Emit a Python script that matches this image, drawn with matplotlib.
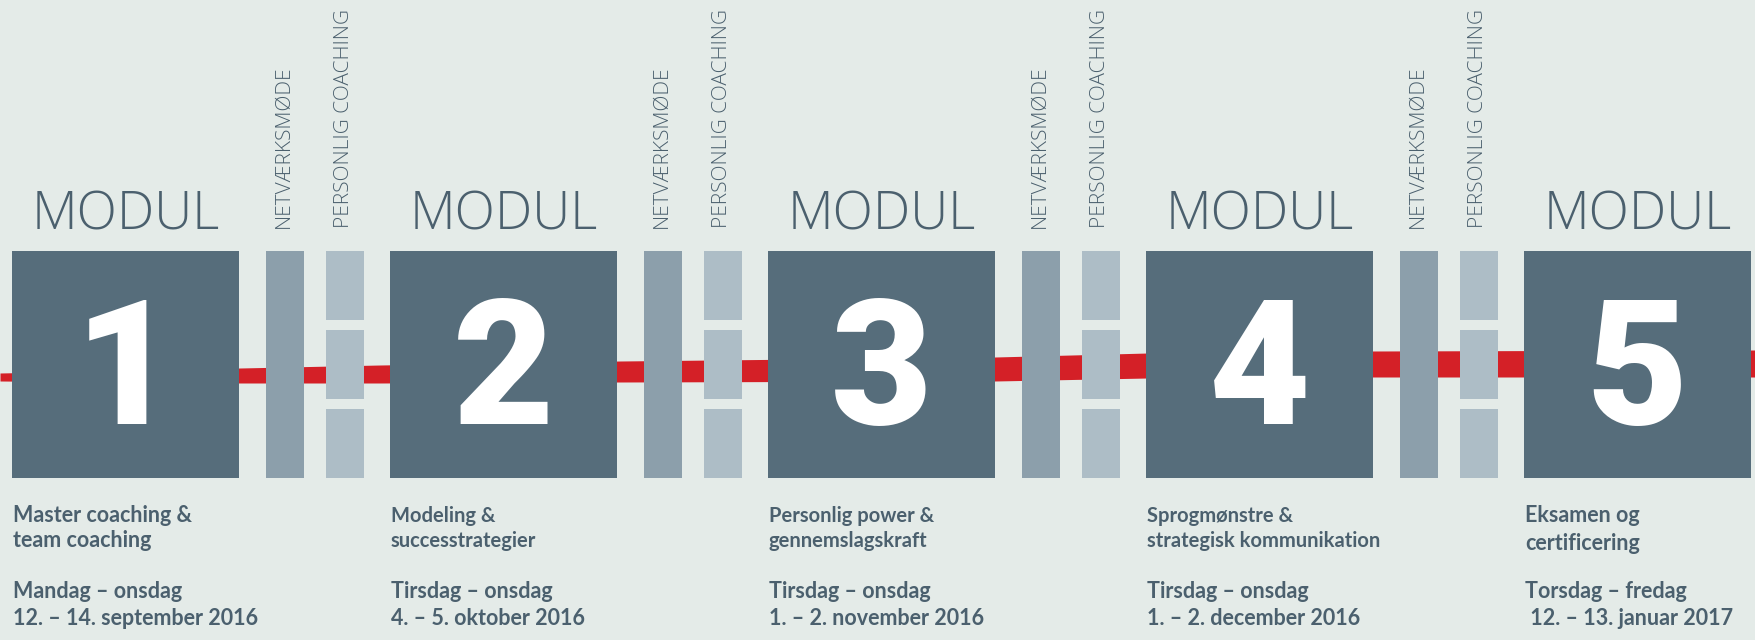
import matplotlib.pyplot as plt
from matplotlib.patches import Rectangle

# --- Data ---
modules = ['1', '2', '3', '4', '5']
titles = [
    ['Master coaching &', 'team coaching'],
    ['Modeling &', 'successtrategier'],
    ['Personlig power &', 'gennemslagskraft'],
    ['Sprogmønstre &', 'strategisk kommunikation'],
    ['Eksamen og', 'certificering'],
]
days = ['Mandag – onsdag', 'Tirsdag – onsdag', 'Tirsdag – onsdag',
        'Tirsdag – onsdag', 'Torsdag – fredag']
dates = ['12. – 14. september 2016', '4. – 5. oktober 2016',
         '1. – 2. november 2016', '1. – 2. december 2016',
         ' 12. – 13. januar 2017']
gap_labels = ['NETVÆRKSMØDE', 'PERSONLIG COACHING']

# red timeline band (x, top edge, bottom edge)
line_x = [0, 240, 380, 620, 995, 1148, 1373, 1756]
line_top = [373, 368, 365, 361, 357, 353, 351, 350]
line_bot = [381, 383, 383, 382, 381, 378, 377, 377]

# --- Colours ---
bg = '#e4ebe8'
box_col = '#566d7b'
net_col = '#8c9fab'
pers_col = '#adbdc6'
red = '#d42027'
txt = '#4b606e'

# --- Layout (pixels) ---
period = 378
box_x0, box_w = 12, 227
box_top, box_bot = 251, 478
net_off, net_w = 254, 38
pers_off, pers_w = 314, 38
seg_h, seg_gap = 69, 10

fig = plt.figure(figsize=(17.56, 6.4), dpi=100)
fig.patch.set_facecolor(bg)
ax = fig.add_axes([0, 0, 1, 1])
ax.set_xlim(0, 1756)
ax.set_ylim(640, 0)
ax.axis('off')
ax.set_facecolor(bg)

# timeline
ax.fill_between(line_x, line_top, line_bot, color=red, lw=0, zorder=1)

for i, num in enumerate(modules):
    x0 = box_x0 + i * period
    ax.add_patch(Rectangle((x0, box_top), box_w, box_bot - box_top,
                           color=box_col, lw=0, zorder=3))
    ax.text(x0 + box_w / 2, 358, num, color='white', fontsize=126,
            family='Roboto', fontweight='black', ha='center',
            va='center_baseline', zorder=4)
    ax.text(x0 + box_w / 2, 229, 'MODUL', color=txt, fontsize=38,
            family='Open Sans', fontweight='light', ha='center', va='baseline')

    # texts below
    tsize = 15.5 if i in (0, 4) else 14.5
    ax.text(x0 + 1, 522, titles[i][0], color=txt, fontsize=tsize,
            family='Lato', fontweight='bold', va='baseline')
    ax.text(x0 + 1, 547 if i != 4 else 550, titles[i][1], color=txt,
            fontsize=tsize, family='Lato', fontweight='bold', va='baseline')
    ax.text(x0 + 1, 598, days[i], color=txt, fontsize=15.5,
            family='Lato', fontweight='bold', va='baseline')
    ax.text(x0 + 1, 625, dates[i], color=txt, fontsize=15.5,
            family='Lato', fontweight='bold', va='baseline')

    if i == len(modules) - 1:
        continue
    # netværksmøde bar
    nx = x0 + net_off
    ax.add_patch(Rectangle((nx, box_top), net_w, box_bot - box_top,
                           color=net_col, lw=0, zorder=3))
    ax.text(nx + net_w / 2 - 1, 228, gap_labels[0], color=txt, fontsize=15,
            family='Open Sans', fontweight='light', rotation=90,
            ha='center', va='bottom')
    # personlig coaching, three segments
    px = x0 + pers_off
    for s in range(3):
        y = box_top + s * (seg_h + seg_gap)
        ax.add_patch(Rectangle((px, y), pers_w, seg_h,
                               color=pers_col, lw=0, zorder=3))
    ax.text(px + pers_w / 2 - 1, 228, gap_labels[1], color=txt, fontsize=15,
            family='Open Sans', fontweight='light', rotation=90,
            ha='center', va='bottom')

fig.savefig('out.png', dpi=100, facecolor=bg)
